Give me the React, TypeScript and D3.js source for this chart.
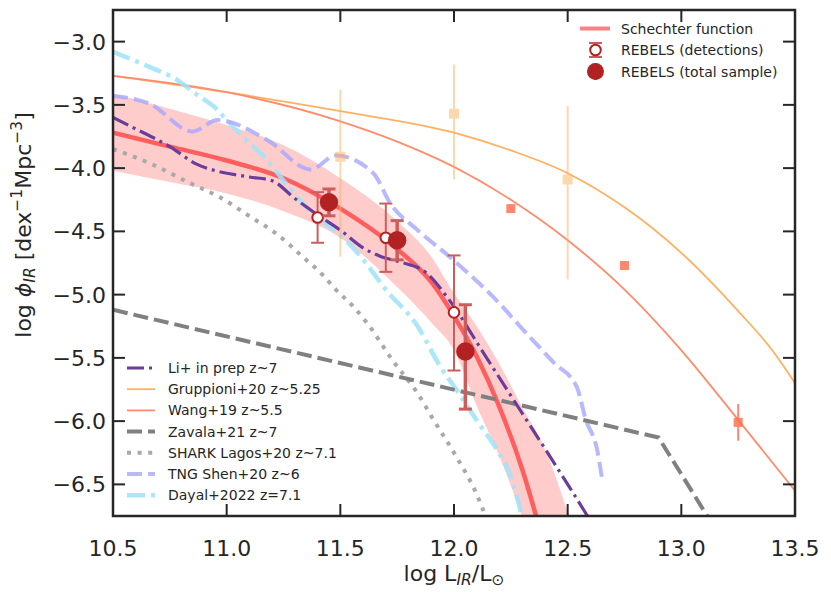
import React from 'react';
import * as d3 from 'd3';

const W = 831, H = 592;
const PL = 113, PT = 10, PR = 795, PB = 516;

const xTicks = [10.5, 11.0, 11.5, 12.0, 12.5, 13.0, 13.5];
const yTicks = [-3.0, -3.5, -4.0, -4.5, -5.0, -5.5, -6.0, -6.5];

// Schechter function fit
const schX = [10.5, 10.75, 11.0, 11.25, 11.5, 11.75, 11.9, 12.0, 12.1, 12.2, 12.3, 12.4];
const schY = [-3.72, -3.83, -3.94, -4.08, -4.32, -4.64, -4.90, -5.17, -5.49, -5.89, -6.38, -7.0];

// uncertainty band
const bandX = [10.5, 10.75, 11.0, 11.25, 11.5, 11.75, 11.9, 12.0, 12.1, 12.2, 12.3, 12.4, 12.5, 12.6];
const bandHi = [-3.41, -3.53, -3.66, -3.82, -4.08, -4.42, -4.70, -4.99, -5.25, -5.55, -5.89, -6.22, -6.72, -7.3];
const bandLo = [-4.02, -4.11, -4.20, -4.34, -4.55, -4.94, -5.22, -5.44, -5.88, -6.28, -6.76, -7.3, -7.8, -8.3];

// Li+ in prep z~7
const liX = [10.5, 10.6, 10.75, 10.87, 10.95, 11.1, 11.2, 11.3, 11.4, 11.5, 11.6, 11.68, 11.76, 11.88, 11.97, 12.14, 12.29, 12.44, 12.58, 12.62];
const liY = [-3.60, -3.69, -3.83, -3.97, -4.02, -4.07, -4.10, -4.24, -4.37, -4.49, -4.63, -4.70, -4.74, -4.83, -5.02, -5.49, -5.91, -6.33, -6.73, -6.85];

// Gruppioni+20 z~5.25
const grX = [10.5, 11.0, 11.5, 12.0, 12.25, 12.5, 12.75, 13.0, 13.25, 13.4, 13.5];
const grY = [-3.27, -3.40, -3.55, -3.72, -3.86, -4.04, -4.31, -4.67, -5.13, -5.44, -5.70];

// Wang+19 z~5.5
const wgX = [10.5, 11.0, 11.5, 11.75, 12.0, 12.25, 12.5, 12.75, 13.0, 13.25, 13.5];
const wgY = [-3.27, -3.40, -3.63, -3.79, -3.99, -4.25, -4.57, -4.96, -5.44, -5.99, -6.55];

// Zavala+21 z~7
const zvX = [10.5, 12.9, 13.2];
const zvY = [-5.12, -6.13, -7.0];

// SHARK Lagos+20 z~7.1
const shX = [10.5, 10.66, 10.84, 10.97, 11.10, 11.22, 11.34, 11.42, 11.48, 11.56, 11.62, 11.73, 11.84, 11.91, 12.01, 12.09, 12.16];
const shY = [-3.85, -3.96, -4.12, -4.23, -4.38, -4.52, -4.71, -4.84, -4.96, -5.10, -5.23, -5.52, -5.78, -5.99, -6.28, -6.54, -6.85];

// TNG Shen+20 z~6
const tnX = [10.5, 10.66, 10.85, 10.96, 11.18, 11.37, 11.48, 11.645, 11.72, 11.84, 11.98, 12.2, 12.29, 12.44, 12.54, 12.58, 12.63, 12.65];
const tnY = [-3.43, -3.49, -3.71, -3.62, -3.78, -4.01, -3.90, -4.04, -4.28, -4.49, -4.70, -5.07, -5.25, -5.54, -5.73, -5.99, -6.23, -6.44];

// Dayal+2022 z=7.1
const dyX = [10.5, 10.66, 10.78, 10.87, 10.96, 11.0, 11.07, 11.18, 11.26, 11.33, 11.42, 11.5, 11.59, 11.70, 11.84, 11.94, 12.01, 12.11, 12.19, 12.25, 12.28, 12.31];
const dyY = [-3.08, -3.20, -3.30, -3.42, -3.54, -3.62, -3.75, -3.94, -4.12, -4.27, -4.42, -4.53, -4.70, -4.96, -5.25, -5.57, -5.75, -6.02, -6.23, -6.44, -6.62, -6.85];

// REBELS detections
const detX = [11.40, 11.70, 12.00];
const detY = [-4.39, -4.55, -5.14];
const detErrUp = [0.20, 0.27, 0.45];
const detErrDn = [0.20, 0.27, 0.46];

// REBELS total sample
const totX = [11.45, 11.75, 12.05];
const totY = [-4.27, -4.57, -5.45];
const totErrUp = [0.105, 0.155, 0.37];
const totErrDn = [0.107, 0.155, 0.455];

// Gruppioni data points
const gpX = [11.5, 12.0, 12.5];
const gpY = [-3.91, -3.57, -4.09];
const gpHi = [-3.38, -3.18, -3.51];
const gpLo = [-4.70, -4.09, -4.88];

// Wang data points
const wpX = [12.25, 12.75, 13.25];
const wpY = [-4.32, -4.77, -6.01];
const wpErr = [0.03, 0.03, 0.145];

const FONT = '"DejaVu Sans", sans-serif';

const C = {
  sch: '#ff5e5e',
  band: '#ff3333',
  li: '#6a3d9a',
  gr: '#ffb060',
  wg: '#ff8c6c',
  zv: '#808080',
  sh: '#a9a9a9',
  tn: '#a6a6ff',
  dy: '#9de3f8',
  reb: '#b22222',
  rebErr: '#cd5c5c',
};

type Series = { label: string; xs: number[]; ys: number[]; color: string; width: number; dash?: string; opacity?: number };

const series: Series[] = [
  { label: 'Gruppioni+20 z~5.25', xs: grX, ys: grY, color: C.gr, width: 1.8 },
  { label: 'Wang+19 z~5.5', xs: wgX, ys: wgY, color: C.wg, width: 1.8 },
  { label: 'Dayal+2022 z=7.1', xs: dyX, ys: dyY, color: C.dy, width: 4.5, dash: '18,6,4,6', opacity: 0.85 },
  { label: 'TNG Shen+20 z~6', xs: tnX, ys: tnY, color: C.tn, width: 4, dash: '15,6', opacity: 0.8 },
  { label: 'SHARK Lagos+20 z~7.1', xs: shX, ys: shY, color: C.sh, width: 4, dash: '4,6.6' },
  { label: 'Zavala+21 z~7', xs: zvX, ys: zvY, color: C.zv, width: 4, dash: '15,6' },
  { label: 'Li+ in prep z~7', xs: liX, ys: liY, color: C.li, width: 3.2, dash: '17,5,3,5' },
];

const legendOrder = ['Li+ in prep z~7', 'Gruppioni+20 z~5.25', 'Wang+19 z~5.5', 'Zavala+21 z~7', 'SHARK Lagos+20 z~7.1', 'TNG Shen+20 z~6', 'Dayal+2022 z=7.1'];

export default function App() {
  const x = d3.scaleLinear().domain([10.5, 13.5]).range([PL, PR]);
  const y = d3.scaleLinear().domain([-2.75, -6.75]).range([PT, PB]);
  const fmt = d3.format('.1f');

  const line = (xs: number[], ys: number[], curve: any = d3.curveMonotoneX) =>
    d3.line<number>().x((i) => x(xs[i])).y((i) => y(ys[i])).curve(curve)(d3.range(xs.length)) || '';

  const band = d3.area<number>()
    .x((i) => x(bandX[i]))
    .y0((i) => y(bandLo[i]))
    .y1((i) => y(bandHi[i]))
    .curve(d3.curveMonotoneX)(d3.range(bandX.length)) || '';

  const tickLen = 12;
  const legX0 = 127, legX1 = 155, legTX = 168, legY0 = 368, legDY = 21.2;

  return (
    <svg width={W} height={H} style={{ position: 'absolute', left: 0, top: 0, background: '#fff' }} fontFamily={FONT}>
      <defs>
        <clipPath id="plotclip">
          <rect x={PL} y={PT} width={PR - PL} height={PB - PT} />
        </clipPath>
      </defs>
      <rect x={0} y={0} width={W} height={H} fill="#fff" />
      <g clipPath="url(#plotclip)">
        <path d={band} fill={C.band} fillOpacity={0.25} stroke="none" />
        <path d={line(schX, schY)} fill="none" stroke={C.sch} strokeWidth={4.5} />
        {series.map((s) => (
          <path key={s.label} d={line(s.xs, s.ys, s.xs.length <= 3 ? d3.curveLinear : d3.curveMonotoneX)} fill="none"
            stroke={s.color} strokeWidth={s.width} strokeDasharray={s.dash} strokeOpacity={s.opacity ?? 1} strokeLinejoin="round" />
        ))}
        {/* Gruppioni data points */}
        {gpX.map((v, i) => (
          <g key={'gp' + i} opacity={0.5}>
            <line x1={x(v)} x2={x(v)} y1={y(gpHi[i])} y2={y(gpLo[i])} stroke={C.gr} strokeWidth={2} />
            <rect x={x(v) - 5} y={y(gpY[i]) - 5} width={10} height={10} fill={C.gr} />
          </g>
        ))}
        {/* Wang data points */}
        {wpX.map((v, i) => (
          <g key={'wp' + i} opacity={0.8}>
            <line x1={x(v)} x2={x(v)} y1={y(wpY[i] + wpErr[i])} y2={y(wpY[i] - wpErr[i])} stroke="#ff6a4a" strokeWidth={2} />
            <rect x={x(v) - 4.5} y={y(wpY[i]) - 4.5} width={9} height={9} fill="#ff6a4a" />
          </g>
        ))}
        {/* REBELS detections */}
        {detX.map((v, i) => (
          <g key={'det' + i}>
            <line x1={x(v)} x2={x(v)} y1={y(detY[i] + detErrUp[i])} y2={y(detY[i] - detErrDn[i])} stroke={C.rebErr} strokeWidth={2} />
            <line x1={x(v) - 6.5} x2={x(v) + 6.5} y1={y(detY[i] + detErrUp[i])} y2={y(detY[i] + detErrUp[i])} stroke={C.rebErr} strokeWidth={2} />
            <line x1={x(v) - 6.5} x2={x(v) + 6.5} y1={y(detY[i] - detErrDn[i])} y2={y(detY[i] - detErrDn[i])} stroke={C.rebErr} strokeWidth={2} />
            <circle cx={x(v)} cy={y(detY[i])} r={5.3} fill="#fff" stroke={C.reb} strokeWidth={2} />
          </g>
        ))}
        {/* REBELS total */}
        {totX.map((v, i) => (
          <g key={'tot' + i}>
            <line x1={x(v)} x2={x(v)} y1={y(totY[i] + totErrUp[i])} y2={y(totY[i] - totErrDn[i])} stroke={C.rebErr} strokeWidth={3.5} />
            <line x1={x(v) - 6.5} x2={x(v) + 6.5} y1={y(totY[i] + totErrUp[i])} y2={y(totY[i] + totErrUp[i])} stroke={C.rebErr} strokeWidth={3} />
            <line x1={x(v) - 6.5} x2={x(v) + 6.5} y1={y(totY[i] - totErrDn[i])} y2={y(totY[i] - totErrDn[i])} stroke={C.rebErr} strokeWidth={3} />
            <circle cx={x(v)} cy={y(totY[i])} r={9.2} fill={C.reb} />
          </g>
        ))}
      </g>

      {/* frame */}
      <rect x={PL} y={PT} width={PR - PL} height={PB - PT} fill="none" stroke="#262626" strokeWidth={2.5} />
      {/* ticks */}
      {xTicks.map((t) => (
        <g key={'xt' + t}>
          <line x1={x(t)} x2={x(t)} y1={PB} y2={PB - tickLen} stroke="#262626" strokeWidth={2} />
          <line x1={x(t)} x2={x(t)} y1={PT} y2={PT + tickLen} stroke="#262626" strokeWidth={2} />
          <text x={x(t)} y={556} textAnchor="middle" fontSize={22} fill="#262626">{fmt(t)}</text>
        </g>
      ))}
      {yTicks.map((t) => (
        <g key={'yt' + t}>
          <line x1={PL} x2={PL + tickLen} y1={y(t)} y2={y(t)} stroke="#262626" strokeWidth={2} />
          <line x1={PR} x2={PR - tickLen} y1={y(t)} y2={y(t)} stroke="#262626" strokeWidth={2} />
          <text x={106} y={y(t) + 8} textAnchor="end" fontSize={22} fill="#262626">{fmt(t)}</text>
        </g>
      ))}

      {/* x label */}
      <text x={(PL + PR) / 2} y={581} textAnchor="middle" fontSize={22} fill="#262626">
        log L<tspan fontStyle="italic" fontSize={15.5} dy={4}>IR</tspan><tspan dy={-4}>/L</tspan><tspan fontSize={15.5} dy={4}>⊙</tspan>
      </text>
      {/* y label */}
      <text transform="translate(31,225) rotate(-90)" textAnchor="middle" fontSize={22} fill="#262626">
        log <tspan fontStyle="italic">ϕ</tspan><tspan fontStyle="italic" fontSize={15.5} dy={4}>IR</tspan><tspan dy={-4}> [dex</tspan><tspan fontSize={15.5} dy={-9}>−1</tspan><tspan dy={9}>Mpc</tspan><tspan fontSize={15.5} dy={-9}>−3</tspan><tspan dy={9}>]</tspan>
      </text>

      {/* top-right legend */}
      <line x1={580} x2={610} y1={28.5} y2={28.5} stroke="#ff8080" strokeWidth={4} />
      <text x={621} y={33.5} fontSize={14} fill="#262626">Schechter function</text>
      <g>
        <line x1={595.5} x2={595.5} y1={43} y2={57} stroke={C.rebErr} strokeWidth={2} />
        <line x1={589} x2={602} y1={43} y2={43} stroke={C.rebErr} strokeWidth={2} />
        <line x1={589} x2={602} y1={57} y2={57} stroke={C.rebErr} strokeWidth={2} />
        <circle cx={595.5} cy={50} r={5.3} fill="#fff" stroke={C.reb} strokeWidth={2} />
      </g>
      <text x={621} y={55} fontSize={14} fill="#262626">REBELS (detections)</text>
      <g>
        <line x1={595.5} x2={595.5} y1={63} y2={80} stroke={C.rebErr} strokeWidth={3} />
        <circle cx={595.5} cy={71.5} r={8.5} fill={C.reb} />
      </g>
      <text x={621} y={76.5} fontSize={14} fill="#262626">REBELS (total sample)</text>

      {/* bottom-left legend */}
      {legendOrder.map((lab, k) => {
        const s = series.find((q) => q.label === lab)!;
        const ly = legY0 + k * legDY;
        return (
          <g key={'leg' + lab}>
            <line x1={legX0} x2={legX1} y1={ly} y2={ly} stroke={s.color} strokeWidth={s.width} strokeDasharray={s.dash} strokeOpacity={s.opacity ?? 1} />
            <text x={legTX} y={ly + 5} fontSize={14} fill="#262626">{lab}</text>
          </g>
        );
      })}
    </svg>
  );
}
